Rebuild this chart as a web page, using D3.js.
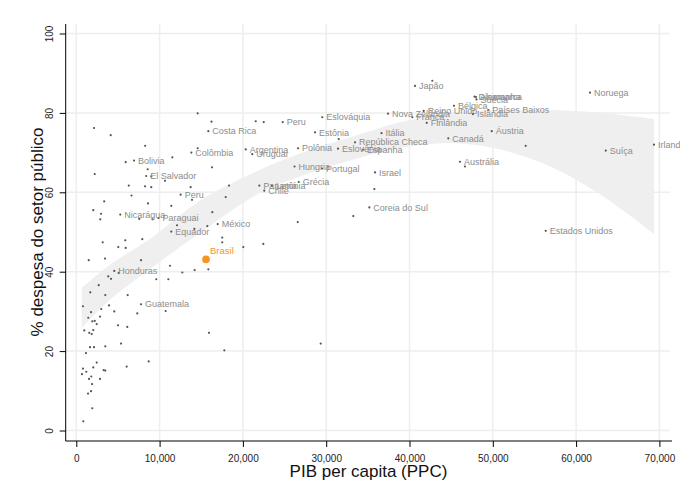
<!DOCTYPE html>
<html>
<head>
<meta charset="utf-8">
<script src="https://cdn.jsdelivr.net/npm/d3@7"></script>
<style>
  body { margin: 0; background: #fff; }
  svg { font-family: "Liberation Sans", Arial, sans-serif; }
</style>
</head>
<body>
<div id="chart"></div>
<script>
// paises (rotulo vazio = ponto sem nome)
var pais = ["Costa Rica","Peru","Peru","Colômbia","Bolivia","El Salvador","Argentina","Uruguai",
  "Nicarágua","Paraguai","México","Equador","Brasil","Honduras","Guatemala","Eslováquia","Estônia",
  "Polônia","Eslovênia","República Checa","Espanha","Itália","Nova Zelândia","Japão","Reino Unido",
  "França","Finlândia","Bélgica","Alemanha","Dinamarca","Suécia","Islândia","Países Baixos","Áustria",
  "Canadá","Austrália","Noruega","Suíça","Irlanda","Estados Unidos","Israel","Coreia do Sul","Hungria",
  "Portugal","Grécia","Panamá","Chile","Letônia"];
var pib = [15850,24780,12530,13810,6930,8390,20340,21130,
  5280,9870,16980,11400,15570,4560,7770,29530,28660,
  26620,31420,33460,34420,36640,37420,40660,41700,
  40340,42070,45340,47980,47800,48040,47620,49460,49870,
  44660,46060,61670,63560,69350,56350,35860,35180,26200,
  29500,26700,21970,22570,23490];
var despesa = [75.4,77.7,59.4,70.0,68.0,64.1,70.8,69.6,
  54.4,53.5,52.0,50.1,43.1,40.2,31.8,78.9,75.1,
  71.1,71.0,72.6,70.7,74.9,79.8,86.8,80.5,
  78.9,77.5,81.8,84.0,84.1,83.4,79.7,80.7,75.4,
  73.6,67.7,85.1,70.5,72.0,50.3,65.0,56.2,66.5,
  66.0,62.6,61.7,60.4,61.6];

// pontos sem rotulo
var outrosPib = [14570,16230,21540,22500,2130,4130,8270,14570,11530,5930,8570,2210,9000,16290,
  10650,6300,8250,9000,13730,18330,6630,17940,3350,8610,11400,13890,2040,2970,2880,7560,9170,
  16330,12090,15730,14170,3170,5880,7920,5040,5930,17520,17520,20050,22450,26580,33250,35780,
  31500,42740,53950,46660,1490,3450,7770,11250,15850,14210,12730,5090,3840,4170,9600,11050,
  2690,1680,3480,6170,800,3930,3000,1770,4560,7320,10730,1440,2850,1920,2210,2450,5010,6120,
  960,1560,1850,2040,15930,1650,2130,3480,5370,17770,29340,1160,2450,8690,6050,800,1200,2040,
  3290,3480,680,1800,1530,2850,1890,1770,1410,1920,840];
var outrosDesp = [79.9,77.8,77.9,77.7,76.2,74.4,71.7,71.1,68.8,67.6,65.8,64.6,64.0,66.3,
  62.9,61.7,61.5,61.3,61.3,61.7,59.2,58.8,57.7,57.2,56.6,58.1,55.5,54.6,53.2,53.3,53.2,
  55.0,51.7,51.5,50.8,47.4,47.9,48.2,46.2,46.0,48.6,47.4,46.2,47.0,52.5,54.0,60.8,
  73.4,88.1,71.7,66.5,42.9,43.3,42.9,41.5,40.6,40.4,39.8,39.7,38.8,38.2,38.1,38.1,
  36.6,34.8,34.1,34.1,31.3,31.5,30.6,29.8,30.0,29.5,30.1,28.4,28.7,27.5,27.6,26.8,26.5,26.1,
  25.2,24.6,24.3,25.3,24.6,21.0,21.0,21.2,21.9,20.2,21.9,19.5,17.1,17.4,16.1,15.6,14.8,15.9,
  15.2,15.1,14.2,13.6,13.0,13.0,11.7,9.9,9.3,5.6,2.3];

// faixa de ajuste
var faixaPib = [650,4000,9000,15000,22000,27000,33000,39000,45000,51000,57000,63000,69350];
var faixaSup = [35.9,41.7,48.5,58.1,65.6,69.9,73.9,77.7,80.0,80.7,80.7,80.0,78.5];
var faixaInf = [25.8,32.9,40.9,50.0,59.8,64.1,68.1,71.2,72.4,70.7,66.4,59.3,49.5];

var xTicks = [0,10000,20000,30000,40000,50000,60000,70000];
var yTicks = [0,20,40,60,80,100];

var width = 680, height = 499;
var svg = d3.select("#chart").append("svg")
    .attr("width", width)
    .attr("height", height);

var x = d3.scaleLinear().domain([0,70000]).range([76.3,659.4]);
var y = d3.scaleLinear().domain([0,100]).range([430.5,33.5]);
var axX = 65.7, axY = 441;

// grade
svg.append("g").selectAll("line").data(yTicks).enter().append("line")
    .attr("x1", axX).attr("x2", 670)
    .attr("y1", function(d){return y(d)}).attr("y2", function(d){return y(d)})
    .style("stroke","#eeeeee").style("stroke-width",1.5);
svg.append("g").selectAll("line").data(xTicks).enter().append("line")
    .attr("y1", 24).attr("y2", axY)
    .attr("x1", function(d){return x(d)}).attr("x2", function(d){return x(d)})
    .style("stroke","#eeeeee").style("stroke-width",1.5);

// faixa
var faixa = faixaPib.map(function(d,i){return {p:d, lo:faixaInf[i], hi:faixaSup[i]}});
svg.append("path")
    .datum(faixa)
    .attr("d", d3.area().curve(d3.curveCatmullRom)
      .x(function(d){return x(d.p)})
      .y0(function(d){return y(d.lo)})
      .y1(function(d){return y(d.hi)}))
    .style("fill","#efefef");

// eixos
var xAxis = svg.append("g").attr("transform","translate(0,"+axY+")")
    .call(d3.axisBottom(x).tickValues(xTicks).tickSize(6).tickFormat(d3.format(",")));
xAxis.select(".domain").remove();
xAxis.selectAll("text").attr("y",13.5).style("font-size","10px").style("fill","#222");
svg.append("line").attr("x1",axX).attr("x2",672).attr("y1",axY).attr("y2",axY)
    .style("stroke","#000");

var yAxis = svg.append("g").attr("transform","translate("+axX+",0)")
    .call(d3.axisLeft(y).tickValues(yTicks).tickSize(6));
yAxis.select(".domain").remove();
yAxis.selectAll("text")
    .attr("transform","rotate(-90)")
    .attr("x",0).attr("y",-13).attr("dy",0)
    .style("text-anchor","middle")
    .style("font-size","10px").style("fill","#222");
svg.append("line").attr("x1",axX).attr("x2",axX).attr("y1",24).attr("y2",axY)
    .style("stroke","#000");

// titulos
svg.append("text").attr("x",368.5).attr("y",477)
    .style("text-anchor","middle").style("font-size","17px").style("fill","#111")
    .text("PIB per capita (PPC)");
svg.append("text").attr("transform","translate(43,232) rotate(-90)")
    .style("text-anchor","middle").style("font-size","17px").style("fill","#111")
    .text("% despesa do setor público");

// pontos
var outros = outrosPib.map(function(d,i){return {p:d, v:outrosDesp[i]}});
svg.append("g").selectAll("circle").data(outros).enter().append("circle")
    .attr("cx", function(d){return x(d.p)})
    .attr("cy", function(d){return y(d.v)})
    .attr("r", 1.1)
    .style("fill","#555");

var paises = pais.map(function(d,i){return {nome:d, p:pib[i], v:despesa[i]}});
var comNome = paises.filter(function(d){return d.nome!="Brasil"});
svg.append("g").selectAll("circle").data(comNome).enter().append("circle")
    .attr("cx", function(d){return x(d.p)})
    .attr("cy", function(d){return y(d.v)})
    .attr("r", 1.1)
    .style("fill","#555");
svg.append("g").selectAll("text").data(comNome).enter().append("text")
    .attr("x", function(d){return x(d.p)+4})
    .attr("y", function(d){return y(d.v)+3.2})
    .style("font-size","9px")
    .style("fill","#8c8c8c")
    .text(function(d){return d.nome});

var brasil = paises.filter(function(d){return d.nome=="Brasil"});
svg.append("g").selectAll("circle").data(brasil).enter().append("circle")
    .attr("cx", function(d){return x(d.p)})
    .attr("cy", function(d){return y(d.v)})
    .attr("r", 3.8)
    .style("fill","#f7941d");
svg.append("g").selectAll("text").data(brasil).enter().append("text")
    .attr("x", function(d){return x(d.p)+4})
    .attr("y", function(d){return y(d.v)-5.5})
    .style("font-size","9.5px")
    .style("fill","#f7941d")
    .text(function(d){return d.nome});
</script>
</body>
</html>
